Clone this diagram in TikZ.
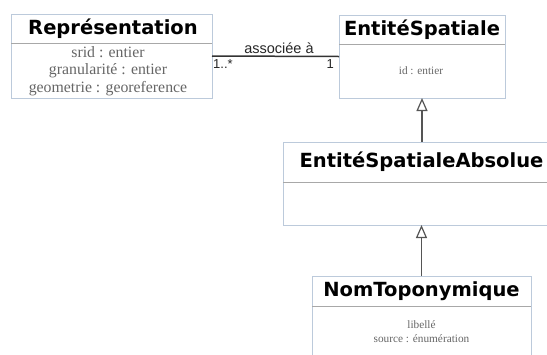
\documentclass[tikz,border=0pt]{standalone}
\usepackage{fontspec}
\setmainfont{Liberation Serif}
\newfontfamily\titlefont{DejaVu Sans}
\newfontfamily\labelfont{Liberation Sans}
\usetikzlibrary{arrows.meta}
\definecolor{boxborder}{HTML}{BCCADB}
\definecolor{divgrey}{HTML}{A8A8A8}
\definecolor{attrgrey}{HTML}{666666}
\definecolor{lineDark}{HTML}{333333}
\definecolor{genline}{HTML}{555555}
\tikzset{
  umlbox/.style={draw=boxborder, line width=0.8pt, rectangle, inner sep=0pt, outer sep=0pt},
  divline/.style={draw=divgrey, line width=1pt},
  umltitle/.style={font=\titlefont\bfseries\fontsize{19.5}{22}\selectfont, text=black, inner sep=0pt},
  attrs/.style={font=\fontsize{15.8}{17.7}\selectfont, text=attrgrey, align=center, inner sep=0pt},
  smallattrs/.style={font=\fontsize{11.3}{14}\selectfont, text=attrgrey, align=center, inner sep=0pt},
  assocline/.style={draw=lineDark, line width=1.5pt},
  assoclabel/.style={font=\labelfont\fontsize{14.5}{16}\selectfont, text=black!85, inner sep=0pt},
  gen/.style={draw=genline, line width=1.5pt, -{Triangle[open, length=13pt, width=11pt, line width=1.2pt]}},
}
\begin{document}
\begin{tikzpicture}[x=1pt, y=-1pt]
\useasboundingbox (0,0) rectangle (547,354);
\clip (0,0) rectangle (547,354);
\fill[white] (0,0) rectangle (547,354);

% Representation
\node[umlbox, minimum width=201pt, minimum height=84pt] (rep) at (111.5,56) {};
\draw[divline] ([yshift=-29pt]rep.north west) -- ([yshift=-29pt]rep.north east);
\node[umltitle] (repT) at (113,29) {Représentation};
\node[attrs] (repA) at (108,71) {srid : entier\\granularité : entier\\geometrie : georeference};

% EntiteSpatiale
\node[umlbox, minimum width=166pt, minimum height=83pt] (es) at (422,56.5) {};
\draw[divline] ([yshift=-29pt]es.north west) -- ([yshift=-29pt]es.north east);
\node[umltitle] (esT) at (422,30) {EntitéSpatiale};
\node[smallattrs] (esA) at (421,71) {id : entier};

% EntiteSpatialeAbsolue
\node[umlbox, minimum width=270pt, minimum height=83pt] (esa) at (418,183.5) {};
\draw[divline] ([yshift=-40pt]esa.north west) -- ([yshift=-40pt]esa.north east);
\node[umltitle] (esaT) at (421.5,162) {EntitéSpatialeAbsolue};

% NomToponymique
\node[umlbox, minimum width=219pt, minimum height=90pt] (nom) at (421.5,321) {};
\draw[divline] ([yshift=-30pt]nom.north west) -- ([yshift=-30pt]nom.north east);
\node[umltitle] (nomT) at (421.5,291) {NomToponymique};
\node[smallattrs] (nomA) at (421.5,332) {libellé\\source : énumération};

% association
\draw[assocline] (rep.east) -- (es.west);
\node[assoclabel, anchor=base] (assocL) at (279,53) {associée à};
\node[assoclabel, anchor=base west, font=\labelfont\fontsize{13}{14}\selectfont] (m1) at (213,68) {1..*};
\node[assoclabel, anchor=base east, font=\labelfont\fontsize{13}{14}\selectfont] (m2) at (334,68) {1};

% generalizations
\draw[gen] (esa.north -| es.south) -- (es.south);
\draw[gen] (nom.north) -- (esa.south -| nom.north);
\end{tikzpicture}
\end{document}
